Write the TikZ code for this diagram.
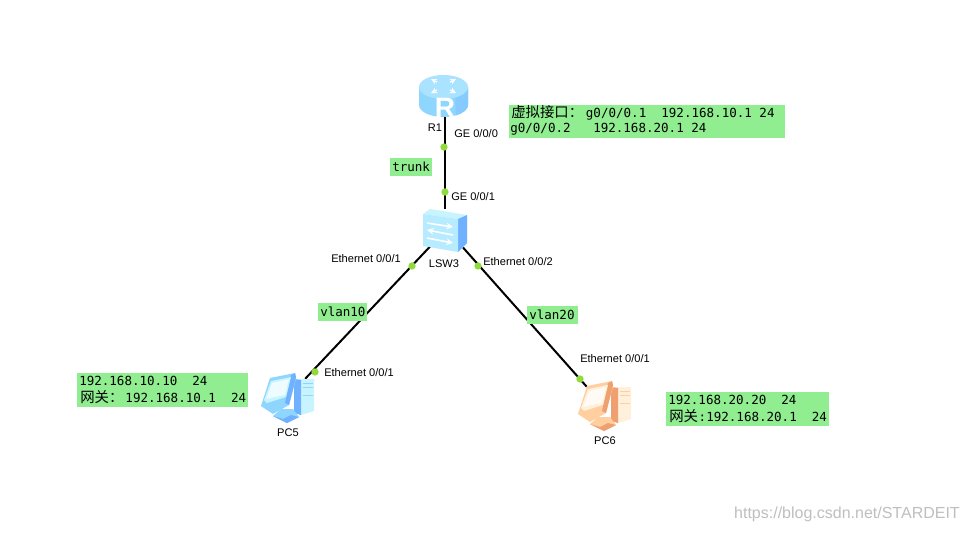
\documentclass[tikz,border=0pt]{standalone}
\usepackage{fontspec}
\setmainfont{Liberation Sans}
\newfontfamily\monof{DejaVu Sans Mono}
\newfontfamily\cjkf{Noto Sans CJK SC}
\usetikzlibrary{calc}
\definecolor{notegreen}{HTML}{90EE90}
\definecolor{portgreen}{HTML}{8FDB3A}
\definecolor{bluelight}{HTML}{C8F4FF}
\definecolor{bluemid}{HTML}{8FD6FF}
\definecolor{bluedark}{HTML}{6FB0FF}
\definecolor{orangelight}{HTML}{FFF0DC}
\definecolor{orangemid}{HTML}{FFCFA0}
\definecolor{orangedark}{HTML}{EFA070}
\tikzset{
  every picture/.style={x=0.75pt,y=-0.75pt},
  notetext/.style={anchor=west,inner sep=0pt,font=\monof\fontsize{9.4pt}{11pt}\selectfont},
  lbl/.style={inner sep=0pt,font=\fontsize{8.3pt}{10pt}\selectfont},
  port/.style={circle,fill=portgreen,draw=none,inner sep=0pt,minimum size=5.5pt},
  device/.style={inner sep=0pt,draw=none},
  wire/.style={draw=black,line width=1.5pt},
  mark/.style={}
}
\newcommand{\Zh}[1]{{\cjkf\fontsize{10.8pt}{11pt}\selectfont #1}}
\newcommand{\pcicon}[5]{%
\begin{scope}[shift={(#1,#2)}]
  \fill[#3] (33,6) -- (53,6) -- (53,38) -- (40,42) -- (33,40) -- cycle;
  \fill[#5] (33,6) -- (40,7) -- (40,42) -- (33,40) -- cycle;
  \draw[#4,line width=0.6pt] (42,10) -- (52,10) (42,14) -- (52,14) (42,22) -- (52,22);
  \fill[#4] (12,43) -- (20,36) -- (32,36) -- (38,44) -- (26,50) -- cycle;
  \fill[#5] (12,43) -- (26,50) -- (38,44) -- (30,42) -- (22,46) -- cycle;
  \fill[#4] (0,33) -- (9,5) -- (34,0) -- (35,6) -- (28,32) -- (12,41) -- cycle;
  \fill[#5] (28,32) -- (35,4) -- (34,0) -- (30,2) -- (24,30) -- cycle;
  \fill[#3] (3,27) -- (10,8) -- (30,4) -- (25,24) -- (6,30) -- cycle;
  \fill[white,opacity=.7] (5,26) -- (11,10) -- (28,6) -- (24,22) -- cycle;
\end{scope}}
\begin{document}
\begin{tikzpicture}
\useasboundingbox (0,0) rectangle (970,532);
\fill[white] (0,0) rectangle (970,532);

\node[device,minimum width=36.75pt,minimum height=31.5pt] (R1) at (445,96) {};
\node[device,minimum width=33pt,minimum height=32.25pt] (LSW3) at (445,230.5) {};
\node[device,minimum width=27pt,minimum height=27pt] (PC5) at (288,397) {};
\node[device,minimum width=30pt,minimum height=27pt] (PC6) at (607,405) {};

\draw[wire] (R1) -- (LSW3);
\coordinate (swl) at ($(LSW3.center)+(-14,15)$);
\coordinate (swr) at ($(LSW3.center)+(18,17)$);
\draw[wire] (swl) -- (PC5);
\draw[wire] (swr) -- (PC6.north west);

% router icon
\fill[bluemid] (419,87) -- (419,105) arc[start angle=180,end angle=0,x radius=24.5,y radius=12] -- (468,87) -- cycle;
\fill[bluemid!70!bluedark] (455,87) -- (468,87) -- (468,105) arc[start angle=0,end angle=60,x radius=24.5,y radius=12] -- cycle;
\fill[bluelight!45!bluemid] (443.5,87) ellipse[x radius=24.5,y radius=12];
\draw[white,line width=1pt,-stealth] (437,82) -- (431,79);
\draw[white,line width=1pt,-stealth] (450,82) -- (456,79);
\draw[white,line width=1pt,-stealth] (437,90) -- (431,93);
\draw[white,line width=1pt,-stealth] (450,90) -- (456,93);
\node[inner sep=0pt,text=white,font=\bfseries\fontsize{21pt}{21pt}\selectfont] (Rmark) at (445,108) {R};

% switch icon
\fill[bluelight] (423,214) -- (430,209) -- (467,215) -- (458,219) -- cycle;
\fill[bluedark] (458,219) -- (467,215) -- (467,243) -- (458,252) -- cycle;
\fill[bluelight!70!bluemid] (423,214) -- (458,219) -- (458,252) -- (423,246) -- cycle;
\draw[white,line width=1.2pt,-stealth] (427,223) -- (453,227);
\draw[white,line width=1.2pt,stealth-] (427,230) -- (453,235);
\draw[white,line width=1.2pt,-stealth] (427,238) -- (453,243);

% PC icons
\pcicon{261}{373}{bluelight}{bluemid}{bluedark}
\pcicon{578}{381}{orangelight}{orangemid}{orangedark}

% port dots
\node[port] (p1) at (444,147) {};
\node[port] (p2) at (445,192) {};
\node[port] (p3) at (412,266) {};
\node[port] (p4) at (478,266) {};
\node[port] (p5) at (315,372) {};
\node[port] (p6) at (580,379) {};

% device labels
\node[lbl] (lR1) at (435,127.5) {R1};
\node[lbl] (lLSW) at (444,264) {LSW3};
\node[lbl] (lPC5) at (288,433) {PC5};
\node[lbl] (lPC6) at (605,441) {PC6};

% port labels
\node[lbl,anchor=west] (e1) at (454,134) {GE 0/0/0};
\node[lbl,anchor=west] (e2) at (451,197) {GE 0/0/1};
\node[lbl,anchor=west] (e3) at (331,259) {Ethernet 0/0/1};
\node[lbl,anchor=west] (e4) at (483,262) {Ethernet 0/0/2};
\node[lbl,anchor=west] (e5) at (324,373) {Ethernet 0/0/1};
\node[lbl,anchor=west] (e6) at (580,359) {Ethernet 0/0/1};

% green notes
\fill[notegreen] (509,105) rectangle (785,138);
\node[notetext] (n1a) at (511,113) {\Zh{虚拟接口：}\hspace{2pt}g0/0/0.1~~192.168.10.1~24};
\node[notetext] (n1b) at (510,129) {g0/0/0.2~~~192.168.20.1~24};

\fill[notegreen] (390,158) rectangle (432,176);
\node[notetext] (t) at (392,167) {trunk};

\fill[notegreen] (318,303) rectangle (367,321);
\node[notetext] (v10) at (320,312) {vlan10};

\fill[notegreen] (527,306) rectangle (578,324);
\node[notetext] (v20) at (529,315) {vlan20};

\fill[notegreen] (77,373) rectangle (248,407);
\node[notetext] (n2a) at (79,381) {192.168.10.10~~24};
\node[notetext] (n2b) at (80,397) {\Zh{网关：}\hspace{1.5pt}192.168.10.1~~24};

\fill[notegreen] (666,392) rectangle (829,426);
\node[notetext] (n3a) at (668,400) {192.168.20.20~~24};
\node[notetext] (n3b) at (669,416) {\Zh{网关}\hspace{.5pt}:192.168.20.1~~24};

% watermark
\node[inner sep=0pt,anchor=east,text=black!25,font=\fontsize{12pt}{13pt}\selectfont] (wm) at (960,514) {https://blog.csdn.net/STARDEIT};
\end{tikzpicture}
\end{document}
